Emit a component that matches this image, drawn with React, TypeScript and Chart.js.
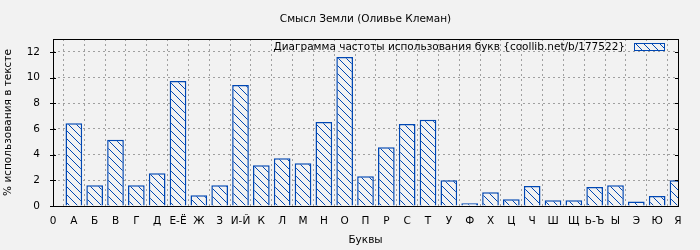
import React, { useEffect, useRef } from 'react';
import { Chart, registerables } from 'chart.js';

Chart.register(...registerables);

const titleText = 'Смысл Земли (Оливье Клеман)';
const legendText = 'Диаграмма частоты использования букв {coollib.net/b/177522}';
const xTitle = 'Буквы';
const yTitle = '% использования в тексте';

const letters = ['0', 'А', 'Б', 'В', 'Г', 'Д', 'Е-Ё', 'Ж', 'З', 'И-Й', 'К', 'Л', 'М', 'Н', 'О', 'П', 'Р', 'С', 'Т', 'У', 'Ф', 'Х', 'Ц', 'Ч', 'Ш', 'Щ', 'Ь-Ъ', 'Ы', 'Э', 'Ю', 'Я'];
const percents: (number | null)[] = [null, 6.45, 1.62, 5.15, 1.62, 2.55, 9.73, 0.83, 1.62, 9.42, 3.17, 3.72, 3.33, 6.53, 11.6, 2.32, 4.58, 6.38, 6.71, 2.0, 0.21, 1.07, 0.52, 1.56, 0.44, 0.44, 1.48, 1.62, 0.36, 0.78, 2.0];
const yMin = 0;
const yMax = 13;
const yStep = 2;

const BG = '#f2f2f2';
const BLUE = '#0047b3';
const FONT = 'DejaVu Sans';
const FS = 10.5;

function makePattern(ctx: CanvasRenderingContext2D): CanvasPattern | string {
  const s = 8;
  const c = document.createElement('canvas');
  c.width = s;
  c.height = s;
  const p = c.getContext('2d');
  if (!p) return BG;
  p.fillStyle = BG;
  p.fillRect(0, 0, s, s);
  p.strokeStyle = BLUE;
  p.lineWidth = 1;
  p.beginPath();
  p.moveTo(-1, -1);
  p.lineTo(s + 1, s + 1);
  p.stroke();
  return ctx.createPattern(c, 'repeat') || BG;
}

export default function App() {
  const ref = useRef<HTMLCanvasElement | null>(null);

  useEffect(() => {
    document.body.style.margin = '0';
    document.body.style.background = BG;
    const canvas = ref.current;
    if (!canvas) return;
    const ctx = canvas.getContext('2d');
    if (!ctx) return;
    const pattern = makePattern(ctx);

    const decor = {
      id: 'decor',
      beforeDraw(chart: any) {
        const c = chart.ctx;
        c.save();
        c.fillStyle = BG;
        c.fillRect(0, 0, chart.width, chart.height);
        c.restore();
      },
      afterDraw(chart: any) {
        const c = chart.ctx as CanvasRenderingContext2D;
        const a = chart.chartArea;
        c.save();
        c.strokeStyle = '#000';
        c.lineWidth = 1;
        c.strokeRect(Math.round(a.left) + 0.5, Math.round(a.top) + 0.5, Math.round(a.right - a.left), Math.round(a.bottom - a.top));
        const ys = chart.scales.y;
        c.beginPath();
        for (let v = yMin; v <= 12; v += yStep) {
          const py = Math.round(ys.getPixelForValue(v)) + 0.5;
          c.moveTo(a.left - 3, py);
          c.lineTo(a.left + 3, py);
          c.moveTo(a.right - 3, py);
          c.lineTo(a.right, py);
        }
        c.stroke();
        c.fillStyle = '#000';
        c.font = `${FS}px "${FONT}"`;
        c.textAlign = 'center';
        c.textBaseline = 'middle';
        c.fillText(titleText, (a.left + a.right) / 2, 19);
        c.textAlign = 'right';
        c.fillText(legendText, 625, 47);
        c.fillStyle = pattern as any;
        c.fillRect(634, 44, 30, 6);
        c.strokeStyle = BLUE;
        c.strokeRect(634.5, 43.5, 30, 7);
        c.restore();
      },
    };

    const chart = new Chart(canvas, {
      type: 'bar',
      data: {
        labels: letters,
        datasets: [
          {
            label: legendText,
            data: percents,
            backgroundColor: pattern as any,
            borderColor: BLUE,
            borderWidth: 1.5,
            barPercentage: 0.8,
            categoryPercentage: 1,
            clip: 0 as any,
          },
        ],
      },
      options: {
        animation: false,
        responsive: true,
        maintainAspectRatio: false,
        layout: { padding: { top: 39, right: 22, left: 0, bottom: 0 } },
        plugins: {
          legend: { display: false },
          title: { display: false },
          tooltip: { enabled: false },
        },
        scales: {
          x: {
            type: 'category',
            offset: false,
            grid: { display: true, color: '#a0a0a0', drawTicks: false, lineWidth: 1 },
            border: { display: false, dash: [2, 3] },
            ticks: { color: '#000', font: { family: FONT, size: FS }, padding: 9, maxRotation: 0, autoSkip: false },
            title: { display: true, text: xTitle, color: '#000', font: { family: FONT, size: FS }, padding: { top: 0, bottom: 3.7 } },
            afterFit(scale: any) {
              scale.height = 44;
            },
          },
          y: {
            min: yMin,
            max: yMax,
            grid: { display: true, color: '#a0a0a0', drawTicks: false, lineWidth: 1 },
            border: { display: false, dash: [2, 3] },
            ticks: {
              stepSize: yStep,
              color: '#000',
              font: { family: FONT, size: FS },
              padding: 13,
              callback: (v: any) => (Number(v) > 12 ? '' : String(v)),
            },
            title: { display: true, text: yTitle, color: '#000', font: { family: FONT, size: FS }, padding: { top: 2.4, bottom: 0 } },
            afterFit(scale: any) {
              scale.width = 53;
            },
          },
        },
      },
      plugins: [decor],
    });

    return () => {
      chart.destroy();
    };
  }, []);

  return (
    <div style={{ width: 700, height: 250, position: 'relative' }}>
      <canvas ref={ref} />
    </div>
  );
}
